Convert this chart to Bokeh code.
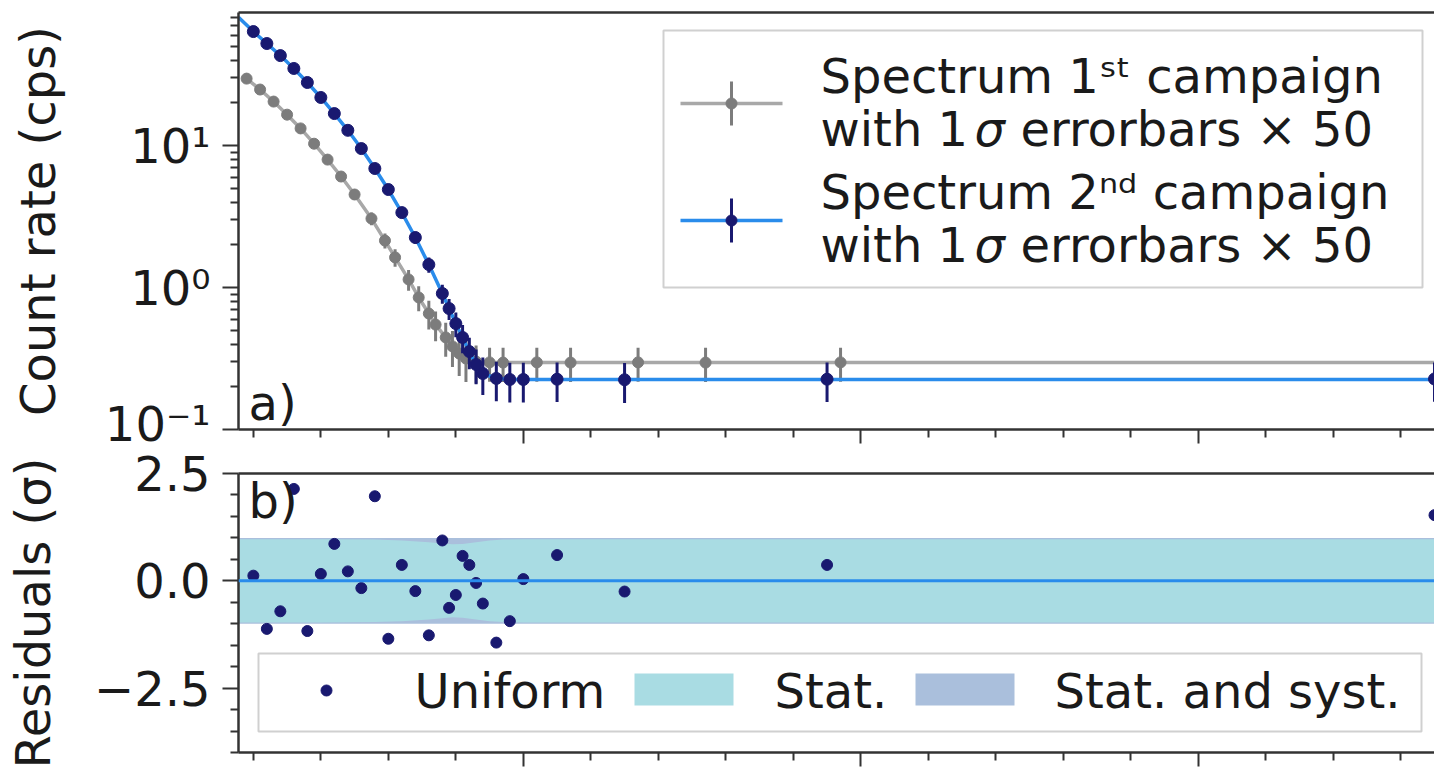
from bokeh.plotting import figure
from bokeh.layouts import column
from bokeh.models import Range1d, LinearScale, FixedTicker, LinearAxis, Span
from bokeh.core.properties import value
from bokeh.embed import file_html
from bokeh.resources import INLINE

# ---------------------------------------------------------------- data
# retarding energy relative to the endpoint (eV), count rate (cps), 1 sigma x 50
qU_1st = [-41, -39, -37, -35, -33, -31, -29, -27, -25, -22.5, -20.5, -19, -17, -15.5,
          -14, -13, -11.5, -10.5, -9.5, -8.5, -7, -5, -3, 2, 7, 17, 27, 47]
rate_1st = [29.6, 24.8, 20.4, 16.5, 13.2, 10.3, 7.96, 6.05, 4.52, 3.06, 2.14, 1.63, 1.14, 0.851,
            0.656, 0.548, 0.445, 0.385, 0.343, 0.316, 0.301, 0.297, 0.296, 0.297, 0.296, 0.297, 0.296, 0.297]
err_1st = [0.98, 0.90, 0.81, 0.73, 0.65, 0.58, 0.51, 0.44, 0.38, 0.31, 0.26, 0.23, 0.19, 0.17,
           0.15, 0.13, 0.12, 0.11, 0.105, 0.10, 0.09, 0.08, 0.08, 0.08, 0.08, 0.08, 0.08, 0.08]
fit_qU_1st = [-41, -39, -37, -35, -33, -31, -29, -27, -25, -22.5, -20.5, -19, -17, -15.5,
              -14, -13, -11.5, -10.5, -9.5, -8.5, -7, -5, 135]
fit_rate_1st = [29.6, 24.8, 20.4, 16.5, 13.2, 10.3, 7.96, 6.05, 4.52, 3.06, 2.14, 1.63, 1.14, 0.851,
                0.656, 0.548, 0.445, 0.385, 0.343, 0.316, 0.301, 0.297, 0.297]

qU_2nd = [-40, -38, -36, -34, -32, -30, -28, -26, -24, -22, -20, -18, -16, -14,
          -12, -11, -10, -9, -8, -7, -6, -4, -2, 0, 5, 15, 45, 135]
rate_2nd = [63.5, 52.3, 43.0, 34.9, 27.8, 21.8, 16.8, 12.8, 9.52, 6.89, 4.90, 3.37, 2.25, 1.45,
            0.908, 0.711, 0.557, 0.445, 0.354, 0.287, 0.248, 0.229, 0.225, 0.225, 0.226, 0.224, 0.226, 0.227]
err_2nd = [1.17, 1.07, 0.97, 0.87, 0.78, 0.69, 0.60, 0.53, 0.45, 0.39, 0.33, 0.27, 0.22, 0.18,
           0.14, 0.12, 0.11, 0.10, 0.088, 0.079, 0.073, 0.071, 0.070, 0.070, 0.070, 0.070, 0.070, 0.070]
fit_qU_2nd = [-42.2, -40, -38, -36, -34, -32, -30, -28, -26, -24, -22, -20, -18, -16, -14,
              -12, -11, -10, -9, -8, -7, -6, -4, -2, 0, 135]
fit_rate_2nd = [80.0, 63.5, 52.3, 43.0, 34.9, 27.8, 21.8, 16.8, 12.8, 9.52, 6.89, 4.90, 3.37, 2.25, 1.45,
                0.908, 0.711, 0.557, 0.445, 0.354, 0.287, 0.248, 0.229, 0.225, 0.225, 0.225]

# normalised residuals of the 2nd campaign
resid_2nd = [0.12, -1.12, -0.71, 2.14, -1.17, 0.16, 0.86, 0.22, -0.17, 1.97, -1.35, 0.37, -0.24, -1.27,
             0.94, -0.63, -0.33, 0.58, 0.37, -0.05, -0.53, -1.44, -0.94, 0.04, 0.60, -0.25, 0.37, 1.53]

# uncertainty bands (half widths, in sigma)
band_qU = [-42.2, -30, -22, -18, -14, -12, -10.5, -9, -7, -5, -3, 0, 135]
band_stat = [0.97, 0.97, 0.96, 0.94, 0.90, 0.87, 0.85, 0.86, 0.90, 0.94, 0.96, 0.97, 0.97]
band_total = [1.0, 1.0, 1.0, 1.0, 1.0, 1.0, 1.0, 1.0, 1.0, 1.0, 1.0, 1.0, 1.0]

x_major = [0, 50, 100]
x_minor = [-40, -30, -20, -10, 10, 20, 30, 40, 60, 70, 80, 90, 110, 120, 130]
rate_major = [0.1, 1, 10]
rate_minor = [0.2, 0.3, 0.4, 0.5, 0.6, 0.7, 0.8, 0.9, 2, 3, 4, 5, 6, 7, 8, 9, 20, 30, 40, 50, 60, 70, 80]
rate_labels = {0.1: "10\u207b\u00b9", 1: "10\u2070", 10: "10\u00b9"}
res_major = [-2.5, 0, 2.5]
res_minor = [-4.0, -3.5, -3.0, -2.0, -1.5, -1.0, -0.5, 0.5, 1.0, 1.5, 2.0]
res_labels = {-2.5: "\u22122.5", 0: "0.0", 2.5: "2.5"}

# ---------------------------------------------------------------- style
FONT = value("DejaVu Sans")
FS = "48px"
INK = "#1a1a1a"
SPINE = "#333333"
GRAY_PT = "#7c7c7c"
GRAY_LINE = "#a8a8a8"
NAVY = "#191970"
FIT_BLUE = "#2a8ceb"
STAT_COL = "#a9dce3"
TOTAL_COL = "#aabfdc"

LEFT = 238
FRAME_W = 1196
TOP_H = 417
RES_H = 279


def style_axes(p, y_major, y_minor, y_labels, ylabel, label_standoff):
    p.outline_line_color = None
    p.xgrid.visible = False
    p.ygrid.visible = False
    p.background_fill_color = "white"
    p.border_fill_color = "white"

    xa = p.xaxis[0]
    xa.ticker = FixedTicker(ticks=x_major, minor_ticks=x_minor)
    xa.major_label_overrides = {t: "" for t in x_major}
    xa.major_tick_in = 0
    xa.minor_tick_in = 0
    xa.major_tick_out = 14
    xa.minor_tick_out = 8
    xa.major_label_text_font_size = "1px"
    xa.major_label_standoff = 0

    ya = p.yaxis[0]
    ya.ticker = FixedTicker(ticks=y_major, minor_ticks=y_minor)
    ya.major_label_overrides = y_labels
    ya.major_tick_in = 0
    ya.minor_tick_in = 0
    ya.major_tick_out = 16
    ya.minor_tick_out = 8
    ya.major_label_standoff = 12
    ya.major_label_text_font = "DejaVu Sans"
    ya.major_label_text_font_size = FS
    ya.major_label_text_color = INK
    ya.axis_label = ylabel
    ya.axis_label_text_font = "DejaVu Sans"
    ya.axis_label_text_font_size = FS
    ya.axis_label_text_font_style = "normal"
    ya.axis_label_text_color = INK
    ya.axis_label_standoff = label_standoff

    for ax in (xa, ya):
        ax.axis_line_color = SPINE
        ax.axis_line_width = 2.5
        ax.major_tick_line_color = SPINE
        ax.minor_tick_line_color = SPINE
        ax.major_tick_line_width = 2
        ax.minor_tick_line_width = 2

    top_spine = LinearAxis(ticker=FixedTicker(ticks=[]), major_tick_in=0, major_tick_out=0,
                           minor_tick_in=0, minor_tick_out=0, major_label_text_font_size="1px",
                           major_label_standoff=0, axis_line_color=SPINE, axis_line_width=2.5)
    p.add_layout(top_spine, "above")


def overlay_text(p, x, y, txt, size=FS, style="normal"):
    p.text(x=x, y=y, text=txt, x_range_name="px", y_range_name="py",
           text_font=FONT, text_font_size=value(size), text_font_style=style,
           text_color=INK, text_baseline="middle", text_align="left")


# ---------------------------------------------------------------- a) spectra
p1 = figure(frame_width=FRAME_W, frame_height=TOP_H, y_axis_type="log",
            x_range=Range1d(-42.2, 135.0), y_range=Range1d(0.1, 86.5),
            min_border_left=LEFT, min_border_right=0, min_border_top=12, min_border_bottom=22,
            output_backend="svg", toolbar_location=None)
p1.extra_x_ranges = {"px": Range1d(0, FRAME_W)}
p1.extra_y_ranges = {"py": Range1d(0, TOP_H)}
p1.extra_y_scales = {"py": LinearScale()}
style_axes(p1, rate_major, rate_minor, rate_labels, "Count rate (cps)", 36)

lo_1st = [r - e for r, e in zip(rate_1st, err_1st)]
hi_1st = [r + e for r, e in zip(rate_1st, err_1st)]
lo_2nd = [r - e for r, e in zip(rate_2nd, err_2nd)]
hi_2nd = [r + e for r, e in zip(rate_2nd, err_2nd)]

p1.line(fit_qU_1st, fit_rate_1st, line_color=GRAY_LINE, line_width=3.5)
p1.segment(x0=qU_1st, y0=lo_1st, x1=qU_1st, y1=hi_1st, line_color=GRAY_PT, line_width=3)
p1.scatter(qU_1st, rate_1st, size=11, color=GRAY_PT)

p1.line(fit_qU_2nd, fit_rate_2nd, line_color=FIT_BLUE, line_width=3.5)
p1.segment(x0=qU_2nd, y0=lo_2nd, x1=qU_2nd, y1=hi_2nd, line_color=NAVY, line_width=3)
p1.scatter(qU_2nd, rate_2nd, size=12, color=NAVY)

# legend of panel a)
p1.quad(left=[425], right=[1184], bottom=[142], top=[399], x_range_name="px", y_range_name="py",
        fill_color="white", fill_alpha=0.85, line_color="#d0d0d0", line_width=2)
for yc, pt, ln in ((326, GRAY_PT, GRAY_LINE), (209, NAVY, FIT_BLUE)):
    p1.segment(x0=[442], y0=[yc], x1=[544], y1=[yc], x_range_name="px", y_range_name="py",
               line_color=ln, line_width=3.5)
    p1.segment(x0=[493], y0=[yc - 22], x1=[493], y1=[yc + 22], x_range_name="px", y_range_name="py",
               line_color=pt, line_width=3)
    p1.scatter(x=[493], y=[yc], x_range_name="px", y_range_name="py", size=11, color=pt)

overlay_text(p1, [582], [354], ["Spectrum 1\u02e2\u1d57 campaign"])
overlay_text(p1, [582], [238], ["Spectrum 2\u207f\u1d48 campaign"])
for yl in (301, 185):
    overlay_text(p1, [582], [yl], ["with 1"])
    overlay_text(p1, [736], [yl], ["\u03c3"], style="italic")
    overlay_text(p1, [782], [yl], ["errorbars \u00d7 50"])
overlay_text(p1, [10], [27], ["a)"])

# ---------------------------------------------------------------- b) residuals
p2 = figure(frame_width=FRAME_W, frame_height=RES_H,
            x_range=p1.x_range, y_range=Range1d(-4.0, 2.5),
            min_border_left=LEFT, min_border_right=0, min_border_top=22, min_border_bottom=17,
            output_backend="svg", toolbar_location=None)
p2.extra_x_ranges = {"px": Range1d(0, FRAME_W)}
p2.extra_y_ranges = {"py": Range1d(0, RES_H)}
style_axes(p2, res_major, res_minor, res_labels, "Residuals (\u03c3)", 30)

p2.varea(x=band_qU, y1=[-v for v in band_total], y2=band_total, fill_color=TOTAL_COL)
p2.varea(x=band_qU, y1=[-v for v in band_stat], y2=band_stat, fill_color=STAT_COL)
p2.add_layout(Span(location=0, dimension="width", line_color=FIT_BLUE, line_width=3))
p2.scatter(qU_2nd, resid_2nd, size=11, color=NAVY)

# legend of panel b)
p2.quad(left=[20], right=[1183], bottom=[21], top=[99], x_range_name="px", y_range_name="py",
        fill_color="white", fill_alpha=0.85, line_color="#d0d0d0", line_width=2)
p2.scatter(x=[88], y=[62], x_range_name="px", y_range_name="py", size=11, color=NAVY)
overlay_text(p2, [176], [62], ["Uniform"])
p2.quad(left=[396], right=[495], bottom=[47], top=[79], x_range_name="px", y_range_name="py",
        fill_color=STAT_COL, line_color=None)
overlay_text(p2, [536], [62], ["Stat."])
p2.quad(left=[677], right=[776], bottom=[47], top=[79], x_range_name="px", y_range_name="py",
        fill_color=TOTAL_COL, line_color=None)
overlay_text(p2, [816], [62], ["Stat. and syst."])
overlay_text(p2, [10], [252], ["b)"])

layout = column(p1, p2, spacing=0)
open("out.html", "w").write(file_html(layout, INLINE))
